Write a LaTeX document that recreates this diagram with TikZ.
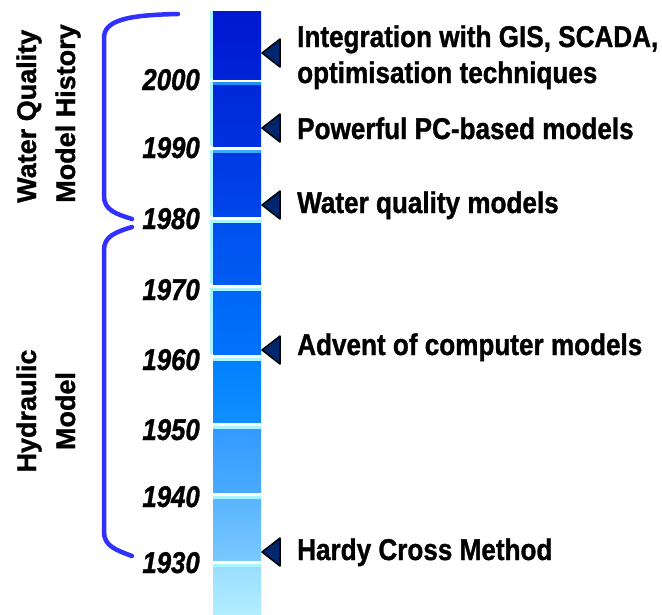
\documentclass[tikz,border=0pt]{standalone}
\usepackage{fontspec}
\setmainfont{Liberation Sans}[BoldFont={Liberation Sans Bold}, BoldItalicFont={Liberation Sans Bold Italic}, ItalicFont={Liberation Sans Italic}, BoldFeatures={FakeBold=1.2}, BoldItalicFeatures={FakeBold=1.2}]
\usepackage{graphicx}
\definecolor{braceblue}{HTML}{3030FF}
\definecolor{trinavy}{HTML}{00266E}
\definecolor{palecyan}{HTML}{A8F4FF}
\tikzset{
  x=1pt, y=-1pt,
  brace/.style={draw=braceblue, line width=4.5pt, line cap=round},
  tri/.style={fill=trinavy, draw=black, line width=1.5pt, line join=round},
  yearlbl/.style={anchor=base east, inner sep=0pt, font=\fontsize{30}{36}\selectfont\bfseries\itshape},
  eventlbl/.style={anchor=base west, inner sep=0pt, font=\fontsize{30}{36}\selectfont\bfseries},
  sidelbl/.style={rotate=90, inner sep=0pt, font=\fontsize{27}{38}\selectfont\bfseries},
}
\begin{document}
\begin{tikzpicture}
\useasboundingbox (0,0) rectangle (662,614);
% bar segments
\foreach \t/\b/\ct/\cb in {11/79/0018D0/0024D8, 82/146/0028D8/0032DF, 150/216/0038E2/0046EA, 220/284/0050EE/005CF2, 288/354/0066F8/0072FA, 358/422/0080FF/1090FF, 426/492/3399FF/48AAFF, 496/560/58B4FF/78C8FF, 564/614/98DCFF/B2EEFF}{
  \definecolor{segtop}{HTML}{\ct}
  \definecolor{segbot}{HTML}{\cb}
  \shade[top color=segtop, bottom color=segbot] (213,\t) rectangle (261,\b);
}
% light strips at the top of segments
\fill[color={rgb,255:red,30;green,143;blue,255}] (213,82) rectangle (261,85);
\fill[color={rgb,255:red,60;green,170;blue,255}] (213,150) rectangle (261,153);
\foreach \t in {220,288,358,426,496,564}{
  \fill[palecyan] (213,\t) rectangle (261,\t+3);
}
% pale cyan strip on the left of the upper segments
\foreach \t/\b in {11/79, 82/146, 150/216, 220/284, 288/354}{
  \fill[palecyan] (210,\t) rectangle (213,\b);
}
% braces
\coordinate (wqtop) at (178,14);
\coordinate (wqend) at (132,219);
\coordinate (hytop) at (132,227);
\coordinate (hyend) at (132,556);
\draw[brace] (wqtop) .. controls (128,15) and (104,20) .. (104,38) -- (104,196) .. controls (104,210) and (116,214) .. (wqend);
\draw[brace] (hytop) .. controls (116,232) and (104,236) .. (104,250) -- (104,532) .. controls (104,546) and (116,550) .. (hyend);
% side labels
\node[sidelbl, anchor=base west] (wq1) at (36,203) {Water Quality};
\node[sidelbl, anchor=base west] (wq2) at (75,203) {Model History};
\node[sidelbl, anchor=base] (hy1) at (36,411) {Hydraulic};
\node[sidelbl, anchor=base] (hy2) at (75,411) {Model};
% years
\node[yearlbl] (y2000) at (200,90) {\scalebox{0.86}[1]{2000}};
\node[yearlbl] (y1990) at (200,158) {\scalebox{0.86}[1]{1990}};
\node[yearlbl] (y1980) at (200,229) {\scalebox{0.86}[1]{1980}};
\node[yearlbl] (y1970) at (200,300) {\scalebox{0.86}[1]{1970}};
\node[yearlbl] (y1960) at (200,370) {\scalebox{0.86}[1]{1960}};
\node[yearlbl] (y1950) at (200,440) {\scalebox{0.86}[1]{1950}};
\node[yearlbl] (y1940) at (200,507) {\scalebox{0.86}[1]{1940}};
\node[yearlbl] (y1930) at (200,573) {\scalebox{0.86}[1]{1930}};
% markers
\foreach \c in {53,128,205,350,552}{
  \draw[tri] (280,\c-14) -- (262,\c) -- (280,\c+14) -- cycle;
}
% events
\node[eventlbl] (e1a) at (297,47) {\scalebox{0.87}[1]{Integration with GIS, SCADA,}};
\node[eventlbl] (e1b) at (297,83) {\scalebox{0.87}[1]{optimisation techniques}};
\node[eventlbl] (e2) at (297,139) {\scalebox{0.87}[1]{Powerful PC-based models}};
\node[eventlbl] (e3) at (297,213) {\scalebox{0.87}[1]{Water quality models}};
\node[eventlbl] (e4) at (297,355) {\scalebox{0.87}[1]{Advent of computer models}};
\node[eventlbl] (e5) at (297,560) {\scalebox{0.87}[1]{Hardy Cross Method}};
\end{tikzpicture}
\end{document}
